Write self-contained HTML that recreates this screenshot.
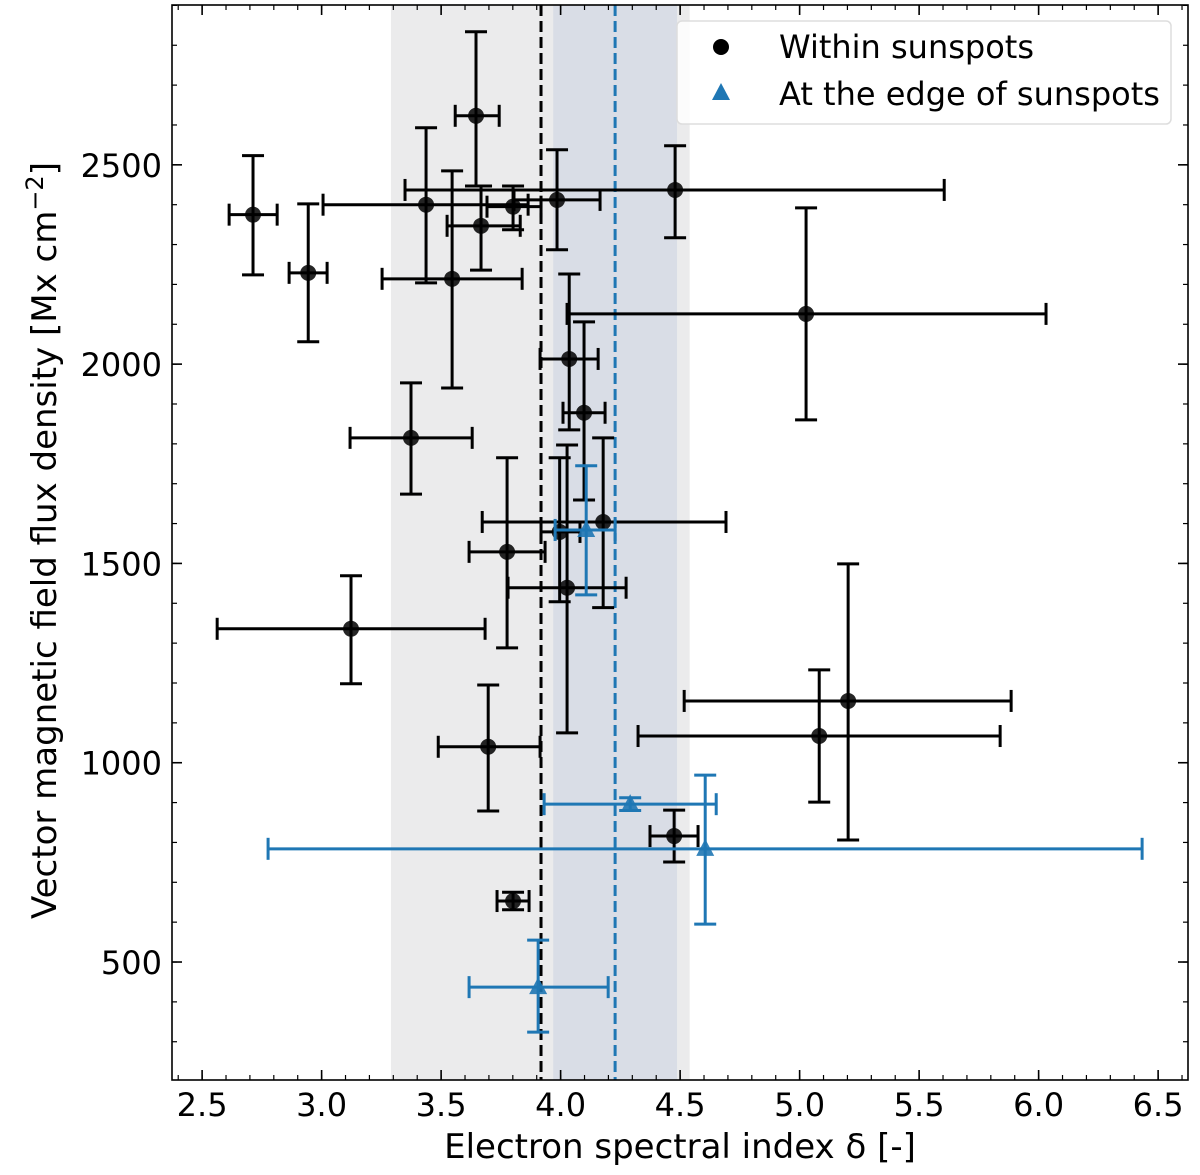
<!DOCTYPE html>
<html><head><meta charset="utf-8"><style>
body{margin:0;background:#fff}
svg text{font-family:"DejaVu Sans","Liberation Sans",sans-serif;fill:#000}
</style></head><body>
<svg id="chart" width="1200" height="1170" viewBox="0 0 1200 1170" xmlns="http://www.w3.org/2000/svg"></svg>
<script>
// Within sunspots: x, xlo, xhi, y, ylo, yhi
const blackX   = [2.713,2.944,3.437,3.646,3.667,3.801,3.985,4.479,3.546,5.027,4.036,4.098,3.374,3.776,4.178,3.996,4.027,3.123,3.697,5.203,5.082,4.475,3.801];
const blackXlo = [2.613,2.864,3.006,3.559,3.525,3.692,3.805,3.349,3.253,4.027,3.914,4.010,3.119,3.617,3.672,3.918,3.780,2.563,3.488,4.517,4.324,4.374,3.734];
const blackXhi = [2.814,3.023,3.864,3.743,3.831,3.918,4.165,5.605,3.839,6.031,4.157,4.186,3.630,3.935,4.692,4.081,4.274,3.684,3.914,5.885,5.839,4.575,3.868];
const blackY   = [2375,2229,2400,2623,2347,2395,2412,2437,2214,2126,2013,1878,1815,1529,1604,1579,1439,1336,1040,1155,1067,816,653];
const blackYlo = [2224,2056,2204,2447,2236,2337,2287,2317,1940,1860,1835,1659,1674,1288,1389,1404,1075,1198,879,806,901,751,631];
const blackYhi = [2523,2402,2593,2834,2447,2447,2538,2548,2485,2392,2226,2106,1953,1765,1815,1765,1797,1469,1195,1499,1233,881,675];
// At the edge of sunspots
const blueX   = [4.107,4.291,4.605,3.906];
const blueXlo = [3.977,3.931,2.776,3.617];
const blueXhi = [4.228,4.651,6.433,4.199];
const blueY   = [1584,896,784,437];
const blueYlo = [1421,880,595,324];
const blueYhi = [1745,912,969,555];
const xTicks = [2.5,3.0,3.5,4.0,4.5,5.0,5.5,6.0,6.5];
const xTickLabels = ["2.5","3.0","3.5","4.0","4.5","5.0","5.5","6.0","6.5"];
const yTicks = [500,1000,1500,2000,2500];
const yTickLabels = ["500","1000","1500","2000","2500"];
const graySpan = [3.29,4.54];
const blueSpan = [3.969,4.487];
const blackMean = 3.918;
const blueMean = 4.228;

const L=172,R=1188,T=5,B=1080;
const X0=2.374,X1=6.625,Y0=204,Y1=2901;
const sx=v=>L+(v-X0)/(X1-X0)*(R-L);
const sy=v=>B-(v-Y0)/(Y1-Y0)*(B-T);
const svg=document.getElementById('chart');
const NS='http://www.w3.org/2000/svg';
function mk(tag,attrs,parent){const e=document.createElementNS(NS,tag);for(const k in attrs)e.setAttribute(k,attrs[k]);(parent||svg).appendChild(e);return e;}

let e;
e=mk('rect',{x:sx(graySpan[0]),y:T,width:sx(graySpan[1])-sx(graySpan[0]),height:B-T,fill:'#ebebec'});


e=mk('rect',{x:sx(blueSpan[0]),y:T,width:sx(blueSpan[1])-sx(blueSpan[0]),height:B-T,fill:'#d9dde6'});


e=mk('line',{x1:sx(blackMean),x2:sx(blackMean),y1:T,y2:B,stroke:'#000','stroke-width':3,'stroke-dasharray':'11,5'});


e=mk('line',{x1:sx(blueMean),x2:sx(blueMean),y1:T,y2:B,stroke:'#1f77b4','stroke-width':3,'stroke-dasharray':'11,5'});



function errbar(x,xl,xh,y,yl,yh,col,name){
  const g=mk('g',{stroke:col,'stroke-width':3,fill:'none'});
  
  
  const cx=sx(x),cy=sy(y),c=11;
  mk('line',{x1:sx(xl),x2:sx(xh),y1:cy,y2:cy},g);
  mk('line',{x1:cx,x2:cx,y1:sy(yl),y2:sy(yh)},g);
  mk('line',{x1:sx(xl),x2:sx(xl),y1:cy-c,y2:cy+c},g);
  mk('line',{x1:sx(xh),x2:sx(xh),y1:cy-c,y2:cy+c},g);
  mk('line',{x1:cx-c,x2:cx+c,y1:sy(yl),y2:sy(yl)},g);
  mk('line',{x1:cx-c,x2:cx+c,y1:sy(yh),y2:sy(yh)},g);
}
for(let i=0;i<blackX.length;i++){
  errbar(blackX[i],blackXlo[i],blackXhi[i],blackY[i],blackYlo[i],blackYhi[i],'#000','within-errorbar');
  e=mk('circle',{cx:sx(blackX[i]),cy:sy(blackY[i]),r:8,fill:'#000','fill-opacity':0.85});
  
  
}
for(let i=0;i<blueX.length;i++){
  errbar(blueX[i],blueXlo[i],blueXhi[i],blueY[i],blueYlo[i],blueYhi[i],'#1f77b4','edge-errorbar');
  const cx=sx(blueX[i]),cy=sy(blueY[i]);
  e=mk('polygon',{points:`${cx},${cy-10} ${cx-9},${cy+7} ${cx+9},${cy+7}`,fill:'#1f77b4','fill-opacity':0.9});
  
  
}
e=mk('rect',{x:L,y:T,width:R-L,height:B-T,fill:'none',stroke:'#000','stroke-width':1.6});


for(let v=2.4;v<=6.61;v+=0.1){const p=sx(v);mk('line',{x1:p,x2:p,y1:B,y2:B-5,stroke:'#000','stroke-width':1.2});mk('line',{x1:p,x2:p,y1:T,y2:T+5,stroke:'#000','stroke-width':1.2});}
for(let v=300;v<=2900;v+=100){const p=sy(v);mk('line',{x1:L,x2:L+5,y1:p,y2:p,stroke:'#000','stroke-width':1.2});mk('line',{x1:R,x2:R-5,y1:p,y2:p,stroke:'#000','stroke-width':1.2});}
xTicks.forEach((v,i)=>{const p=sx(v);
  mk('line',{x1:p,x2:p,y1:B,y2:B-10,stroke:'#000','stroke-width':1.6});
  mk('line',{x1:p,x2:p,y1:T,y2:T+10,stroke:'#000','stroke-width':1.6});
  const t=mk('text',{x:p,y:B+36,'font-size':32,'text-anchor':'middle'});t.textContent=xTickLabels[i];
  
  
});
yTicks.forEach((v,i)=>{const p=sy(v);
  mk('line',{x1:L,x2:L+10,y1:p,y2:p,stroke:'#000','stroke-width':1.6});
  mk('line',{x1:R,x2:R-10,y1:p,y2:p,stroke:'#000','stroke-width':1.6});
  const t=mk('text',{x:L-10,y:p+12,'font-size':32,'text-anchor':'end'});t.textContent=yTickLabels[i];
  
  
});
e=mk('text',{x:(L+R)/2,y:1158,'font-size':34,'text-anchor':'middle'});
e.textContent='Electron spectral index δ [-]';


e=mk('text',{x:0,y:0,'font-size':34,'text-anchor':'middle',transform:`translate(56,${(T+B)/2-2}) rotate(-90)`});
e.innerHTML='Vector magnetic field flux density [Mx cm<tspan dy="-13" font-size="24">−2</tspan><tspan dy="13">]</tspan>';


const lg=mk('g',{});


mk('rect',{x:677,y:21,width:494,height:103,rx:5,fill:'#fff','fill-opacity':0.85,stroke:'#ddd','stroke-width':1.5},lg);
e=mk('circle',{cx:721,cy:47,r:8,fill:'#000'},lg);


e=mk('polygon',{points:'721,83 712,100 730,100',fill:'#1f77b4'},lg);


e=mk('text',{x:779,y:58,'font-size':32},lg);e.textContent='Within sunspots';


e=mk('text',{x:779,y:105,'font-size':32},lg);e.textContent='At the edge of sunspots';


</script>
</body></html>
